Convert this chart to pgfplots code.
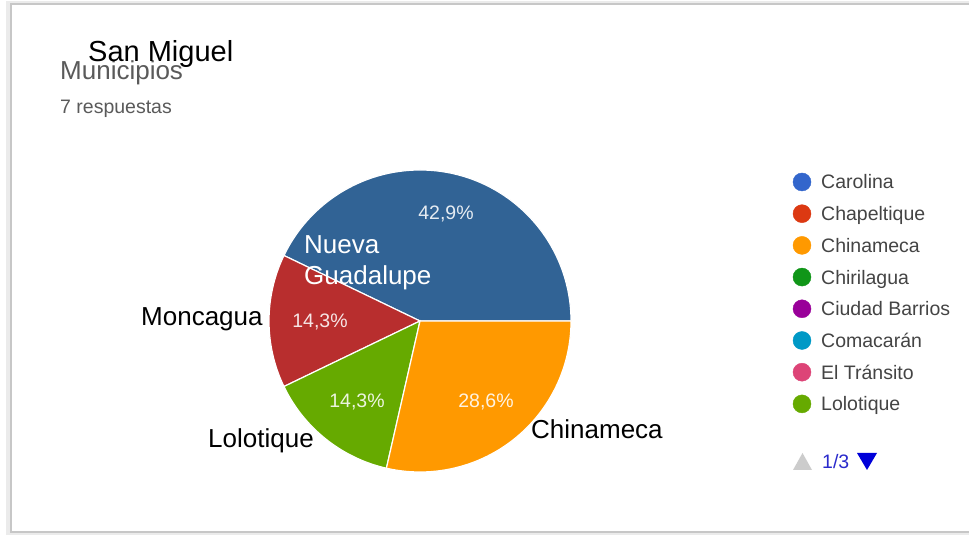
\documentclass[border=0pt]{standalone}
\usepackage{pgfplots}
\pgfplotsset{compat=1.18}
\usepackage{pgfplotstable}
\usepackage{fontspec}
\setmainfont{Liberation Sans}

% Google charts palette
\definecolor{pieA}{HTML}{316395}
\definecolor{pieB}{HTML}{B82E2E}
\definecolor{pieC}{HTML}{66AA00}
\definecolor{pieD}{HTML}{FF9900}
\definecolor{lgA}{HTML}{3366CC}
\definecolor{lgB}{HTML}{DC3912}
\definecolor{lgC}{HTML}{FF9900}
\definecolor{lgD}{HTML}{109618}
\definecolor{lgE}{HTML}{990099}
\definecolor{lgF}{HTML}{0099C6}
\definecolor{lgG}{HTML}{DD4477}
\definecolor{lgH}{HTML}{66AA00}
\definecolor{txtgray}{HTML}{444444}
\definecolor{titlegray}{HTML}{5A5A5A}
\definecolor{pager}{HTML}{2A2ACC}

\newcommand{\fs}[1]{\fontsize{#1}{#1}\selectfont}

\begin{document}
\begin{tikzpicture}
% answers per municipio (7 in total)
\pgfplotstableread{
name count
Nueva 3
Moncagua 1
Lolotique 1
Chinameca 2
}\piedata
\pgfplotstablegetelem{0}{count}\of\piedata\pgfmathsetmacro\cA{\pgfplotsretval}
\pgfplotstablegetelem{1}{count}\of\piedata\pgfmathsetmacro\cB{\pgfplotsretval}
\pgfplotstablegetelem{2}{count}\of\piedata\pgfmathsetmacro\cC{\pgfplotsretval}
\pgfplotstablegetelem{3}{count}\of\piedata\pgfmathsetmacro\cD{\pgfplotsretval}
\pgfmathsetmacro\tot{\cA+\cB+\cC+\cD}
\pgfmathsetmacro\aA{360*\cA/\tot}
\pgfmathsetmacro\aB{\aA+360*\cB/\tot}
\pgfmathsetmacro\aC{\aB+360*\cC/\tot}
\def\r{151pt}
\begin{axis}[
  x=1pt, y=1pt,
  xmin=0, xmax=969, ymin=0, ymax=535,
  hide axis, clip=false,
]
  % card background and frame
  \fill[white] (axis cs:0,0) rectangle (axis cs:969,535);
  \draw[black!8, line width=4pt] (axis cs:969,532) -- (axis cs:8,532) -- (axis cs:8,2) -- (axis cs:969,2);
  \draw[black!22, line width=1.5pt] (axis cs:969,531) -- (axis cs:11,531) -- (axis cs:11,3) -- (axis cs:969,3);

  % pie slices
  \fill[pieA, draw=white, line width=1.2pt] (axis cs:420,214) -- ++(0:\r) arc[start angle=0, end angle=\aA, radius=\r] -- cycle;
  \fill[pieB, draw=white, line width=1.2pt] (axis cs:420,214) -- ++(\aA:\r) arc[start angle=\aA, end angle=\aB, radius=\r] -- cycle;
  \fill[pieC, draw=white, line width=1.2pt] (axis cs:420,214) -- ++(\aB:\r) arc[start angle=\aB, end angle=\aC, radius=\r] -- cycle;
  \fill[pieD, draw=white, line width=1.2pt] (axis cs:420,214) -- ++(\aC:\r) arc[start angle=\aC, end angle=360, radius=\r] -- cycle;

  % slice percentages
  \node[anchor=base, text=white, opacity=0.88, font=\fs{19.5}] at (axis cs:446,315) {42,9\%};
  \node[anchor=base, text=white, opacity=0.88, font=\fs{19.5}] at (axis cs:320,207) {14,3\%};
  \node[anchor=base, text=white, opacity=0.88, font=\fs{19.5}] at (axis cs:357,127) {14,3\%};
  \node[anchor=base, text=white, opacity=0.88, font=\fs{19.5}] at (axis cs:486,127) {28,6\%};

  % header
  \node[anchor=base west, inner sep=0pt, text=titlegray, font=\fs{26}] at (axis cs:60,455) {Municipios};
  \node[anchor=base west, inner sep=0pt, text=titlegray, font=\fs{19.5}] at (axis cs:60,421) {7 respuestas};
  \node[anchor=base west, inner sep=0pt, font=\fs{29}] at (axis cs:88,473) {San Miguel};

  % pasted labels
  \node[anchor=base west, inner sep=0pt, text=white, font=\fs{26}] at (axis cs:304,281) {Nueva};
  \node[anchor=base west, inner sep=0pt, text=white, font=\fs{26}] at (axis cs:304,250) {Guadalupe};
  \node[anchor=base west, inner sep=0pt, font=\fs{26}] at (axis cs:141,209) {Moncagua};
  \node[anchor=base west, inner sep=0pt, font=\fs{26}] at (axis cs:208,87) {Lolotique};
  \node[anchor=base west, inner sep=0pt, font=\fs{26}] at (axis cs:531,96) {Chinameca};

  % legend (page 1 of 3)
  \addplot[only marks, mark=*, mark size=9pt, lgA, mark options={draw=none}] coordinates {(802,353)};
  \addplot[only marks, mark=*, mark size=9pt, lgB, mark options={draw=none}] coordinates {(802,321.3)};
  \addplot[only marks, mark=*, mark size=9pt, lgC, mark options={draw=none}] coordinates {(802,289.6)};
  \addplot[only marks, mark=*, mark size=9pt, lgD, mark options={draw=none}] coordinates {(802,257.9)};
  \addplot[only marks, mark=*, mark size=9pt, lgE, mark options={draw=none}] coordinates {(802,226.2)};
  \addplot[only marks, mark=*, mark size=9pt, lgF, mark options={draw=none}] coordinates {(802,194.5)};
  \addplot[only marks, mark=*, mark size=9pt, lgG, mark options={draw=none}] coordinates {(802,162.8)};
  \addplot[only marks, mark=*, mark size=9pt, lgH, mark options={draw=none}] coordinates {(802,131.1)};
  \node[anchor=base west, inner sep=0pt, text=txtgray, font=\fs{19.5}] at (axis cs:821,346) {Carolina};
  \node[anchor=base west, inner sep=0pt, text=txtgray, font=\fs{19.5}] at (axis cs:821,314.3) {Chapeltique};
  \node[anchor=base west, inner sep=0pt, text=txtgray, font=\fs{19.5}] at (axis cs:821,282.6) {Chinameca};
  \node[anchor=base west, inner sep=0pt, text=txtgray, font=\fs{19.5}] at (axis cs:821,250.9) {Chirilagua};
  \node[anchor=base west, inner sep=0pt, text=txtgray, font=\fs{19.5}] at (axis cs:821,219.2) {Ciudad Barrios};
  \node[anchor=base west, inner sep=0pt, text=txtgray, font=\fs{19.5}] at (axis cs:821,187.5) {Comacarán};
  \node[anchor=base west, inner sep=0pt, text=txtgray, font=\fs{19.5}] at (axis cs:821,155.8) {El Tránsito};
  \node[anchor=base west, inner sep=0pt, text=txtgray, font=\fs{19.5}] at (axis cs:821,124.1) {Lolotique};

  % pager
  \fill[black!20] (axis cs:793,65) -- (axis cs:812,65) -- (axis cs:802.5,82) -- cycle;
  \node[anchor=base west, inner sep=0pt, text=pager, font=\fs{19.5}] at (axis cs:822,66) {1/3};
  \fill[blue!85!black] (axis cs:857,82) -- (axis cs:877,82) -- (axis cs:867,65) -- cycle;
\end{axis}
\pgfresetboundingbox
\path (current axis.south west) rectangle (current axis.north east);
\end{tikzpicture}
\end{document}
